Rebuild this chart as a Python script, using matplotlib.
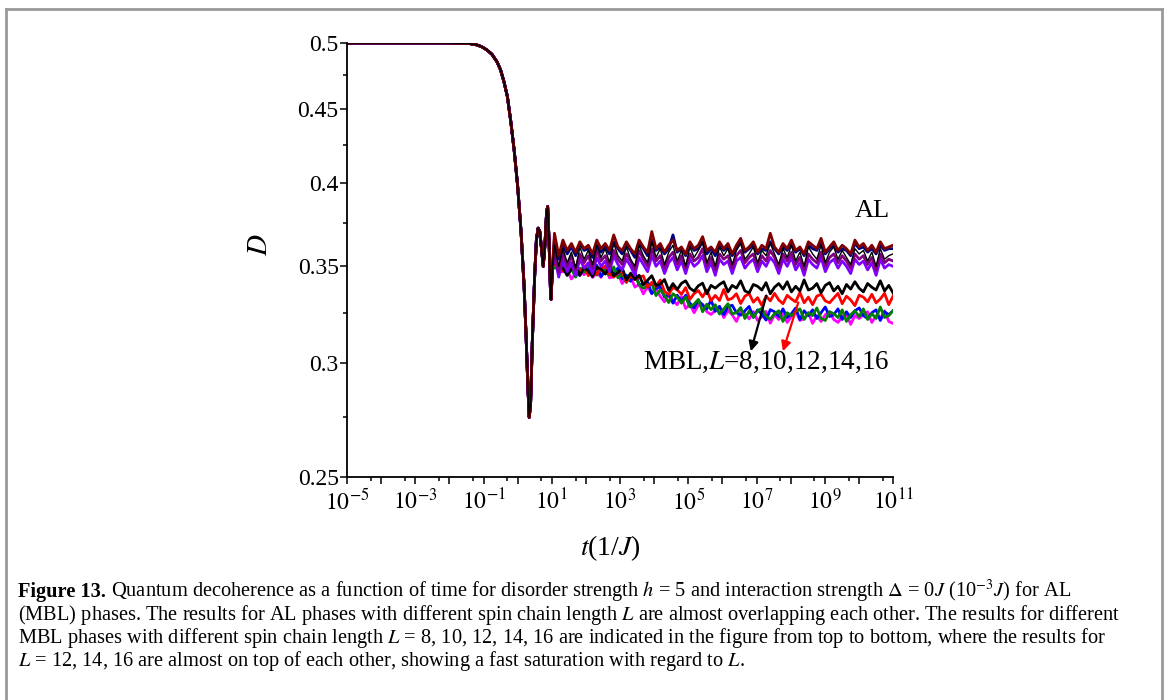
import matplotlib
matplotlib.use('Agg')
import matplotlib.pyplot as plt
import numpy as np
from matplotlib.lines import Line2D

plt.rcParams['font.family'] = ['Liberation Serif', 'DejaVu Serif']
plt.rcParams['mathtext.fontset'] = 'stix'

# shared early part (all curves overlap), log10(t) and D
lt_early = [-5, -2, -1.4, -1.2, -1.05, -0.9, -0.75, -0.6, -0.5, -0.4, -0.3, -0.2, -0.1,
            0.0, 0.1, 0.19, 0.25, 0.3, 0.34, 0.38, 0.43, 0.5, 0.55, 0.6, 0.65, 0.7,
            0.75, 0.8, 0.85, 0.88, 0.92, 0.96, 0.98, 1.02]
D_early = [0.5, 0.5, 0.4995, 0.4985, 0.497, 0.4945, 0.491, 0.485, 0.479, 0.470, 0.459,
           0.441, 0.421, 0.398, 0.370, 0.339, 0.312, 0.289, 0.275, 0.281, 0.310, 0.345,
           0.365, 0.372, 0.370, 0.360, 0.350, 0.362, 0.382, 0.385, 0.365, 0.338, 0.332,
           0.350]

# late part, log10(t) from ~1 to 11, values of D in units of 1e-4
lt_late = np.linspace(1.08, 11.0, 81)

al_wine = [3690, 3560, 3650, 3590, 3630, 3580, 3640, 3600, 3620, 3570, 3650, 3600, 3630, 3590,
           3680, 3610, 3590, 3640, 3600, 3570, 3650, 3610, 3580, 3700, 3600, 3630, 3580, 3620,
           3650, 3590, 3610, 3570, 3640, 3600, 3620, 3670, 3590, 3610, 3580, 3640, 3600, 3630,
           3570, 3620, 3660, 3590, 3610, 3640, 3580, 3620, 3600, 3690, 3610, 3580, 3630, 3600,
           3650, 3590, 3610, 3570, 3640, 3620, 3600, 3660, 3580, 3610, 3640, 3590, 3620, 3600,
           3570, 3650, 3610, 3630, 3590, 3620, 3580, 3640, 3600, 3610, 3620]
al_navy = [3660, 3540, 3620, 3570, 3610, 3560, 3630, 3590, 3600, 3550, 3620, 3580, 3610, 3570,
           3640, 3600, 3570, 3620, 3590, 3550, 3630, 3600, 3560, 3650, 3590, 3610, 3570, 3600,
           3680, 3580, 3600, 3560, 3620, 3590, 3600, 3640, 3570, 3600, 3560, 3620, 3590, 3610,
           3560, 3600, 3640, 3580, 3600, 3620, 3570, 3600, 3590, 3640, 3600, 3570, 3610, 3590,
           3630, 3580, 3600, 3560, 3620, 3600, 3590, 3640, 3570, 3600, 3620, 3580, 3600, 3590,
           3560, 3630, 3600, 3610, 3580, 3600, 3570, 3620, 3590, 3600, 3600]
al_black = [3620, 3500, 3600, 3520, 3580, 3490, 3610, 3540, 3590, 3510, 3620, 3550, 3600, 3520,
            3630, 3560, 3530, 3610, 3540, 3500, 3620, 3560, 3520, 3640, 3550, 3600, 3510, 3580,
            3620, 3530, 3590, 3500, 3610, 3550, 3590, 3640, 3520, 3580, 3500, 3610, 3560, 3600,
            3510, 3590, 3630, 3540, 3570, 3610, 3520, 3590, 3560, 3630, 3570, 3510, 3600, 3550,
            3620, 3530, 3580, 3500, 3610, 3570, 3540, 3620, 3520, 3580, 3610, 3540, 3590, 3550,
            3510, 3600, 3570, 3590, 3530, 3580, 3500, 3600, 3540, 3560, 3570]
al_purple = [3600, 3470, 3580, 3500, 3560, 3480, 3570, 3520, 3560, 3490, 3590, 3530, 3560, 3500,
             3590, 3540, 3510, 3570, 3530, 3480, 3590, 3540, 3500, 3600, 3530, 3560, 3490, 3550,
             3580, 3510, 3560, 3490, 3570, 3530, 3550, 3600, 3500, 3550, 3480, 3570, 3540, 3560,
             3490, 3560, 3590, 3520, 3550, 3570, 3500, 3560, 3530, 3590, 3550, 3490, 3570, 3530,
             3580, 3510, 3550, 3480, 3570, 3540, 3520, 3580, 3500, 3550, 3570, 3520, 3560, 3530,
             3490, 3570, 3540, 3560, 3510, 3550, 3480, 3570, 3520, 3540, 3530]
al_violet = [3560, 3440, 3540, 3470, 3520, 3450, 3540, 3490, 3520, 3460, 3550, 3500, 3530, 3470,
             3560, 3510, 3480, 3540, 3500, 3450, 3550, 3510, 3470, 3560, 3500, 3530, 3460, 3520,
             3550, 3480, 3530, 3460, 3540, 3500, 3520, 3560, 3470, 3520, 3450, 3540, 3510, 3530,
             3460, 3530, 3550, 3490, 3520, 3540, 3470, 3530, 3500, 3550, 3520, 3460, 3540, 3500,
             3550, 3480, 3520, 3450, 3540, 3510, 3490, 3550, 3470, 3520, 3540, 3490, 3530, 3500,
             3460, 3540, 3510, 3530, 3480, 3520, 3450, 3540, 3490, 3510, 3500]

mbl_8 = [3535, 3505, 3490, 3450, 3485, 3505, 3450, 3493, 3473, 3443, 3496, 3484, 3457, 3495,
         3448, 3465, 3492, 3425, 3462, 3428, 3450, 3399, 3423, 3448, 3395, 3401, 3427, 3368,
         3405, 3373, 3406, 3420, 3380, 3364, 3393, 3407, 3350, 3395, 3380, 3400, 3415, 3360,
         3395, 3380, 3420, 3365, 3355, 3400, 3390, 3370, 3410, 3350, 3385, 3405, 3375, 3415,
         3360, 3390, 3365, 3425, 3370, 3380, 3405, 3355, 3395, 3410, 3365, 3390, 3350, 3400,
         3375, 3415, 3380, 3360, 3405, 3385, 3370, 3420, 3365, 3395, 3355]
mbl_10 = [3510, 3500, 3475, 3475, 3515, 3460, 3470, 3503, 3448, 3488, 3456, 3489, 3501, 3458,
          3440, 3465, 3475, 3413, 3450, 3427, 3440, 3447, 3385, 3412, 3390, 3424, 3363, 3346,
          3385, 3371, 3347, 3383, 3320, 3351, 3367, 3333, 3370, 3313, 3341, 3314, 3373, 3317,
          3326, 3350, 3298, 3337, 3351, 3305, 3329, 3288, 3338, 3312, 3352, 3317, 3297, 3342,
          3322, 3307, 3357, 3302, 3332, 3292, 3337, 3347, 3312, 3302, 3327, 3352, 3297, 3337,
          3317, 3287, 3342, 3332, 3307, 3347, 3302, 3322, 3352, 3292, 3337]
mbl_12 = [3555, 3460, 3515, 3470, 3520, 3460, 3450, 3498, 3488, 3468, 3506, 3444, 3475, 3491,
          3457, 3491, 3430, 3451, 3417, 3466, 3400, 3399, 3413, 3351, 3380, 3386, 3332, 3348,
          3300, 3342, 3310, 3342, 3300, 3275, 3315, 3290, 3270, 3316, 3257, 3283, 3240, 3282,
          3289, 3250, 3237, 3260, 3283, 3226, 3265, 3243, 3212, 3266, 3255, 3230, 3270, 3225,
          3245, 3275, 3215, 3260, 3235, 3265, 3220, 3250, 3280, 3230, 3240, 3270, 3215, 3255,
          3225, 3260, 3275, 3235, 3220, 3250, 3265, 3210, 3255, 3240, 3260]
mbl_14 = [3520, 3470, 3470, 3480, 3430, 3460, 3480, 3453, 3493, 3438, 3466, 3439, 3495, 3436,
          3442, 3461, 3405, 3436, 3442, 3386, 3400, 3349, 3388, 3351, 3380, 3336, 3307, 3343,
          3315, 3292, 3335, 3272, 3295, 3250, 3290, 3295, 3255, 3241, 3262, 3283, 3225, 3262,
          3239, 3205, 3257, 3245, 3218, 3256, 3210, 3228, 3257, 3196, 3240, 3215, 3245, 3200,
          3230, 3260, 3210, 3220, 3250, 3195, 3235, 3205, 3240, 3255, 3215, 3200, 3230, 3245,
          3190, 3235, 3220, 3240, 3255, 3200, 3235, 3220, 3260, 3205, 3195]
mbl_16 = [3490, 3490, 3525, 3450, 3485, 3440, 3490, 3468, 3508, 3473, 3451, 3494, 3470, 3451,
          3497, 3436, 3460, 3411, 3447, 3446, 3400, 3379, 3393, 3406, 3340, 3371, 3342, 3303,
          3350, 3332, 3300, 3332, 3280, 3295, 3320, 3255, 3295, 3266, 3292, 3243, 3270, 3297,
          3244, 3250, 3277, 3220, 3258, 3226, 3260, 3273, 3232, 3216, 3245, 3260, 3205, 3250,
          3235, 3255, 3270, 3215, 3250, 3235, 3275, 3220, 3210, 3255, 3245, 3225, 3265, 3205,
          3240, 3260, 3230, 3270, 3215, 3245, 3220, 3280, 3225, 3235, 3260]

# (values, colour, linewidth), in drawing order
series = [
    (mbl_14, '#ff00ff', 2.0),
    (mbl_12, '#0000ff', 2.0),
    (mbl_16, '#008000', 2.0),
    (mbl_10, '#ff0000', 2.0),
    (mbl_8, '#000000', 2.0),
    (al_violet, '#8000ff', 2.0),
    (al_purple, '#800080', 2.0),
    (al_navy, '#000080', 2.0),
    (al_wine, '#800000', 2.0),
    (al_black, '#000000', 1.0),
]

W, H = 1168, 700
fig = plt.figure(figsize=(W / 100, H / 100), dpi=100)
ax = fig.add_axes([347 / W, 1 - 477 / H, (893 - 347) / W, (477 - 43) / H])

for vals, col, lw in series:
    t = 10.0 ** np.concatenate([lt_early, lt_late])
    D = np.concatenate([D_early, np.array(vals) / 1e4])
    ax.plot(t, D, color=col, lw=lw)

ax.set_xscale('log')
ax.set_yscale('log')
ax.set_xlim(1e-5, 1e11)
ax.set_ylim(0.25, 0.5)

yt = [0.25, 0.3, 0.35, 0.4, 0.45, 0.5]
ax.set_yticks(yt)
ax.set_yticklabels(['0.25', '0.3', '0.35', '0.4', '0.45', '0.5'])
ax.set_yticks([0.275, 0.325, 0.375, 0.425, 0.475], minor=True)
ax.yaxis.set_minor_formatter(matplotlib.ticker.NullFormatter())

xexp = np.arange(-5, 12)
ax.set_xticks(10.0 ** xexp)
ax.set_xticklabels([r'$10^{%d}$' % e if e % 2 else '' for e in xexp])
ax.set_xticks(5 * 10.0 ** np.arange(-5, 11), minor=True)
ax.xaxis.set_minor_formatter(matplotlib.ticker.NullFormatter())

ax.tick_params(which='major', direction='out', length=5, width=1.1, labelsize=17, colors='black')
ax.tick_params(axis='y', which='major', pad=1)
ax.tick_params(which='minor', direction='out', length=3, width=1.1)
ax.spines['top'].set_visible(False)
ax.spines['right'].set_visible(False)
for s in ['left', 'bottom']:
    ax.spines[s].set_linewidth(1.3)

ax.set_ylabel(r'$D$', fontsize=21)
ax.yaxis.set_label_coords(-0.1355, 0.535)
ax.set_xlabel(r'$t$(1/$J$)', fontsize=20)
ax.xaxis.set_label_coords(0.482, -0.129)

ax.text(10 ** 10.91, 0.3823, 'AL', fontsize=19, ha='right', va='center')
ax.text(10 ** 10.88, 0.3004, r'MBL,$L$=8,10,12,14,16', fontsize=19.5, ha='right', va='center')
ax.annotate('', xy=(10 ** 6.81, 0.3043), xytext=(10 ** 7.31, 0.3354),
            arrowprops=dict(arrowstyle='-|>', color='black', lw=1.6, mutation_scale=14))
ax.annotate('', xy=(10 ** 7.75, 0.3043), xytext=(10 ** 8.25, 0.3318),
            arrowprops=dict(arrowstyle='-|>', color='#ff0000', lw=1.6, mutation_scale=14))

# page frame
frame = dict(color='#999999', lw=2.0, transform=fig.transFigure)
fig.add_artist(Line2D([6 / W, 6 / W], [0, 1 - 9 / H], **frame))
fig.add_artist(Line2D([1162 / W, 1162 / W], [0, 1 - 9 / H], **frame))
fig.add_artist(Line2D([6 / W, 1162 / W], [1 - 9 / H, 1 - 9 / H], **frame))

# caption
cap_size = 14.7
cap1 = (' Quantum decoherence as a function of time for disorder strength $h$ = 5 and '
        'interaction strength $\\Delta$ = 0$J$ (10$^{-3}J$) for AL')
cap2 = ('(MBL) phases. The results for AL phases with different spin chain length $L$ are '
        'almost overlapping each other. The results for different')
cap3 = ('MBL phases with different spin chain length $L$ = 8, 10, 12, 14, 16 are indicated in '
        'the figure from top to bottom, where the results for')
cap4 = '$L$ = 12, 14, 16 are almost on top of each other, showing a fast saturation with regard to $L$.'

x0 = 18 / W
base = [597, 620, 643, 666]
r = fig.canvas.get_renderer()
tb = fig.text(x0, 1 - base[0] / H, 'Figure 13.', fontsize=cap_size, weight='bold', va='baseline')
bb = tb.get_window_extent(renderer=r)
fig.text(bb.x1 / W, 1 - base[0] / H, cap1, fontsize=cap_size, va='baseline')
fig.text(x0, 1 - base[1] / H, cap2, fontsize=cap_size, va='baseline')
fig.text(x0, 1 - base[2] / H, cap3, fontsize=cap_size, va='baseline')
fig.text(x0, 1 - base[3] / H, cap4, fontsize=cap_size, va='baseline')

fig.savefig('out.png', dpi=100)
